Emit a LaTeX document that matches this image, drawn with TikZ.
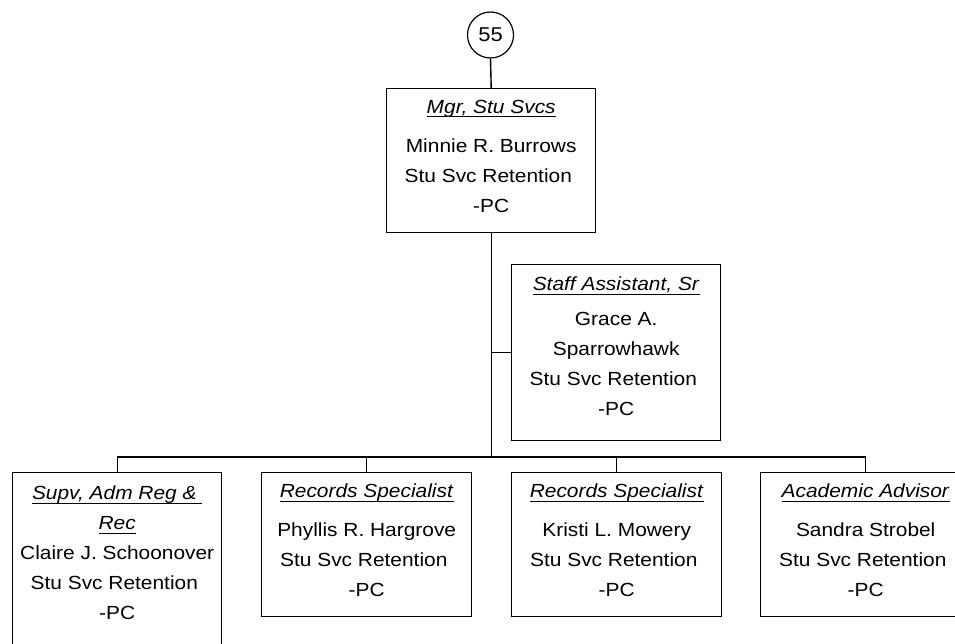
\documentclass[tikz,border=0pt]{standalone}
\usepackage{fontspec}
\setmainfont{Liberation Sans}[FakeStretch=1.1]
\newsavebox\ttlbox
\newcommand\ttl[1]{\sbox\ttlbox{\textit{#1}}\rlap{\rule[-3.5pt]{\wd\ttlbox}{0.9pt}}\usebox\ttlbox}
\tikzset{
  conn/.style={line width=1.4pt, draw=black},
  orgbox/.style={draw=black, line width=1.4pt, minimum width=209pt, minimum height=144pt, inner sep=0pt, anchor=north west},
  tallbox/.style={orgbox, minimum height=176pt},
  orgtxt/.style={font=\fontsize{19}{30}\selectfont, align=center, anchor=north, inner sep=0pt},
  bubble/.style={circle, draw=black, line width=1.2pt, minimum size=46pt, inner sep=0pt, font=\fontsize{20}{22}\selectfont}
}
\begin{document}
\begin{tikzpicture}[x=1pt, y=-1pt]
\useasboundingbox (0,0) rectangle (955,643);
\clip (0,0) rectangle (955,643);
\fill[white] (0,0) rectangle (955,643);

\node[bubble] (c55) at (490.5,35) {55};

\node[orgbox] (mgr) at (386,88) {};
\node[orgtxt] (mgrt) at ([yshift=-12pt]mgr.north) {\ttl{Mgr, Stu Svcs}\\[9pt] Minnie R. Burrows\\ Stu Svc Retention\kern5.8pt\\ -PC};

\node[tallbox] (staff) at (511,264) {};
\node[orgtxt] (stafft) at ([yshift=-13pt]staff.north) {\ttl{Staff Assistant, Sr}\\[5pt] Grace A.\\ Sparrowhawk\\ Stu Svc Retention\kern5.8pt\\ -PC};

\node[tallbox] (b1) at (12,472) {};
\node[orgtxt] (b1t) at ([yshift=-14pt]b1.north) {\ttl{Supv, Adm Reg \&\kern5.8pt}\\ \ttl{Rec}\\ Claire J. Schoonover\\ Stu Svc Retention\kern5.8pt\\ -PC};

\node[orgbox, minimum width=210pt] (b2) at (261,472) {};
\node[orgtxt] (b2t) at ([yshift=-12pt]b2.north) {\ttl{Records Specialist}\\[9pt] Phyllis R. Hargrove\\ Stu Svc Retention\kern5.8pt\\ -PC};

\node[orgbox, minimum width=210pt] (b3) at (511,472) {};
\node[orgtxt] (b3t) at ([yshift=-12pt]b3.north) {\ttl{Records Specialist}\\[9pt] Kristi L. Mowery\\ Stu Svc Retention\kern5.8pt\\ -PC};

\node[orgbox, minimum width=210pt] (b4) at (760,472) {};
\node[orgtxt] (b4t) at ([yshift=-12pt]b4.north) {\ttl{Academic Advisor}\\[9pt] Sandra Strobel\\ Stu Svc Retention\kern5.8pt\\ -PC};

\coordinate (bus) at (490.5,457);

\draw[conn] (c55.south) -- (mgr.north);
\draw[conn] (mgr.south) -- (mgr.south |- bus);
\draw[conn] (staff.west) -- (staff.west -| mgr.south);
\draw[conn] (b1.north) -- (b1.north |- bus) -- (b4.north |- bus) -- (b4.north);
\draw[conn] (b2.north) -- (b2.north |- bus);
\draw[conn] (b3.north) -- (b3.north |- bus);
\end{tikzpicture}
\end{document}
